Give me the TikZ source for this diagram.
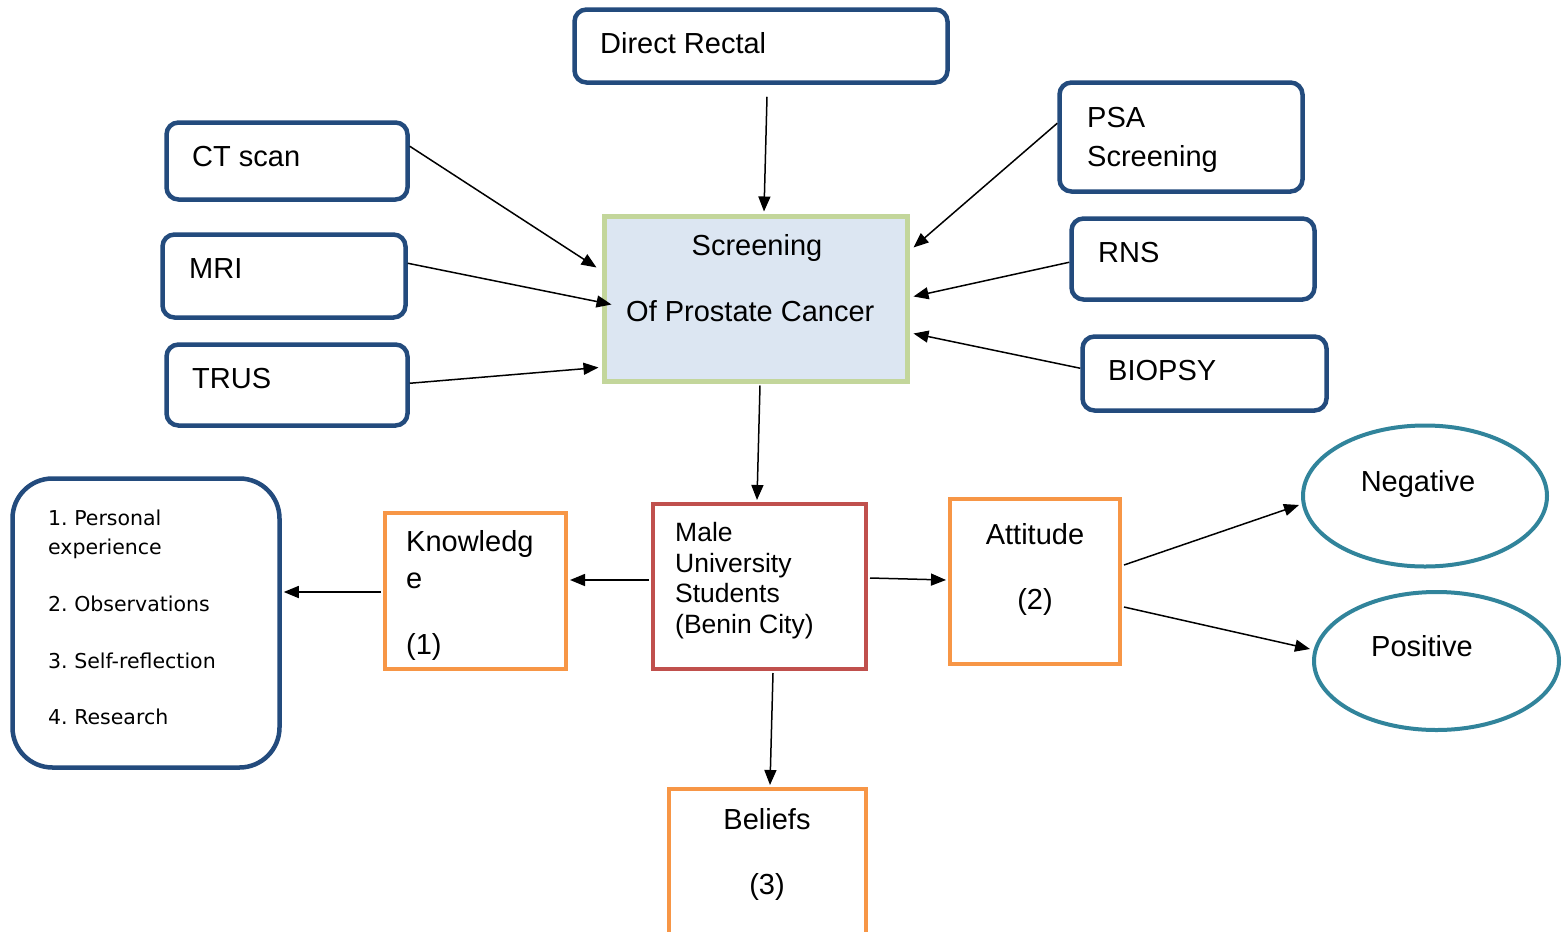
\documentclass[tikz,border=0pt]{standalone}
\usepackage{fontspec}
\setmainfont{Liberation Sans}
\newfontfamily\listfont{DejaVu Sans}
\usetikzlibrary{arrows.meta,calc,shapes.geometric}
\definecolor{myblue}{RGB}{35,75,125}
\definecolor{mygreen}{RGB}{195,214,155}
\definecolor{myfill}{RGB}{220,230,242}
\definecolor{myred}{RGB}{192,80,77}
\definecolor{myorange}{RGB}{247,150,70}
\definecolor{myteal}{RGB}{49,132,155}
\tikzset{
  bluebox/.style={draw=myblue, line width=4.5pt, rounded corners=12pt, fill=white, inner sep=0pt},
  orangebox/.style={draw=myorange, line width=4pt, fill=white, inner sep=0pt},
  redbox/.style={draw=myred, line width=4pt, fill=white, inner sep=0pt},
  greenbox/.style={draw=mygreen, line width=5pt, fill=myfill, inner sep=0pt},
  listbox/.style={draw=myblue, line width=4.5pt, rounded corners=40pt, fill=white, inner sep=0pt},
  ovalnode/.style={ellipse, draw=myteal, line width=4pt, fill=white, inner sep=0pt},
  arr/.style={-{Triangle[length=15pt,width=12pt]}, line width=1.5pt},
  txt/.style={font=\fontsize{29}{34}\selectfont, inner sep=0pt, anchor=base west},
  ctxt/.style={font=\fontsize{29}{34}\selectfont, inner sep=0pt, anchor=base},
  mtxt/.style={font=\fontsize{26.5}{30}\selectfont, inner sep=0pt, anchor=base west},
  ltxt/.style={font=\listfont\fontsize{20.5}{24}\selectfont, inner sep=0pt, anchor=base west},
}
\begin{document}
\begin{tikzpicture}[x=1pt, y=-1pt]
\clip (0,0) rectangle (1567,932);
\fill[white] (0,0) rectangle (1567,932);
% boxes
\node[bluebox, minimum width=373pt, minimum height=73pt] (dr) at (761,46) {};
\node[bluebox, minimum width=241pt, minimum height=77pt] (ct) at (287,161) {};
\node[bluebox, minimum width=243pt, minimum height=83pt] (mri) at (284,276) {};
\node[bluebox, minimum width=241pt, minimum height=81pt] (trus) at (287,385) {};
\node[bluebox, minimum width=243pt, minimum height=109pt] (psa) at (1181,137) {};
\node[bluebox, minimum width=243pt, minimum height=81pt] (rns) at (1193,259) {};
\node[bluebox, minimum width=244pt, minimum height=74pt] (bio) at (1204.5,373.5) {};
\node[greenbox, minimum width=303pt, minimum height=165pt] (scr) at (755.5,298.5) {};
\node[redbox, minimum width=213pt, minimum height=165pt] (male) at (759.5,586.5) {};
\node[orangebox, minimum width=181pt, minimum height=156pt] (know) at (475.5,591) {};
\node[orangebox, minimum width=170pt, minimum height=165pt] (att) at (1035,581.5) {};
\node[orangebox, minimum width=197pt, minimum height=220pt] (bel) at (767.5,899) {};
\node[listbox, minimum width=267pt, minimum height=289pt] (list) at (146,623) {};
\node[ovalnode, minimum width=244pt, minimum height=141pt] (neg) at (1425,496) {};
\node[ovalnode, minimum width=245pt, minimum height=138pt] (pos) at (1436.5,661) {};
% texts
\node[txt] (tdr) at (600,53) {Direct Rectal};
\node[txt] (tct) at (192,166) {CT scan};
\node[txt] (tmri) at (189,278) {MRI};
\node[txt] (ttrus) at (192,388) {TRUS};
\node[txt] (tpsa1) at (1087,127) {PSA};
\node[txt] (tpsa2) at (1087,166) {Screening};
\node[txt] (trns) at (1098,262) {RNS};
\node[txt] (tbio) at (1108,380) {BIOPSY};
\node[ctxt] (tscr1) at (757,255) {Screening};
\node[txt] (tscr2) at (626,321) {Of Prostate Cancer};
\node[mtxt] (tm1) at (675,541) {Male};
\node[mtxt] (tm2) at (675,572) {University};
\node[mtxt] (tm3) at (675,602) {Students};
\node[mtxt] (tm4) at (675,633) {(Benin City)};
\node[txt] (tk1) at (406,551) {Knowledg};
\node[txt] (tk2) at (406,588) {e};
\node[txt] (tk3) at (406,654) {(1)};
\node[ctxt] (ta1) at (1035,544) {Attitude};
\node[ctxt] (ta2) at (1035,609) {(2)};
\node[ctxt] (tb1) at (767,829) {Beliefs};
\node[ctxt] (tb2) at (767,894) {(3)};
\node[ctxt] (tneg) at (1418,491) {Negative};
\node[ctxt] (tpos) at (1422,656) {Positive};
\node[ltxt] (tl1) at (48,525) {1.\ Personal};
\node[ltxt] (tl2) at (48,554) {experience};
\node[ltxt] (tl3) at (48,611) {2.\ Observations};
\node[ltxt] (tl4) at (48,668) {3.\ Self-reflection};
\node[ltxt] (tl5) at (48,724) {4.\ Research};
% connectors
\draw[arr] ($(dr.south)+(6,12)$) -- ($(scr.north)+(8.5,-2)$);
\draw[arr] ($(ct.north east)+(0,26)$) -- ($(scr.north west)+(-5,54)$);
\draw[arr] ($(mri.north east)+(0,31)$) -- ($(scr.north west)+(10,91)$);
\draw[arr] ($(trus.north east)+(0,41)$) -- ($(scr.south west)+(-3,-16)$);
\draw[arr] ($(psa.north west)+(0,43)$) -- ($(scr.north east)+(4,34)$);
\draw[arr] ($(rns.north west)+(0,46)$) -- ($(scr.north east)+(4,83)$);
\draw[arr] ($(bio.north west)+(0,34)$) -- ($(scr.north east)+(4,120)$);
\draw[arr] ($(scr.south)+(4.5,2)$) -- ($(male.north)+(-2.5,-2)$);
\draw[arr] ($(male.west)+(-2,-6.5)$) -- ($(know.east)+(2,-11)$);
\draw[arr] ($(know.west)+(-2,1)$) -- ($(list.east)+(2,-31)$);
\draw[arr] ($(male.east)+(2,-8.5)$) -- ($(att.west)+(-2,-1.5)$);
\draw[arr] ($(att.north east)+(2,68)$) -- ($(neg.west)+(-2,9)$);
\draw[arr] ($(att.north east)+(2,110)$) -- ($(pos.west)+(-2,-12)$);
\draw[arr] ($(male.south)+(13.5,2)$) -- ($(bel.north)+(2.5,-2)$);
\end{tikzpicture}
\end{document}
